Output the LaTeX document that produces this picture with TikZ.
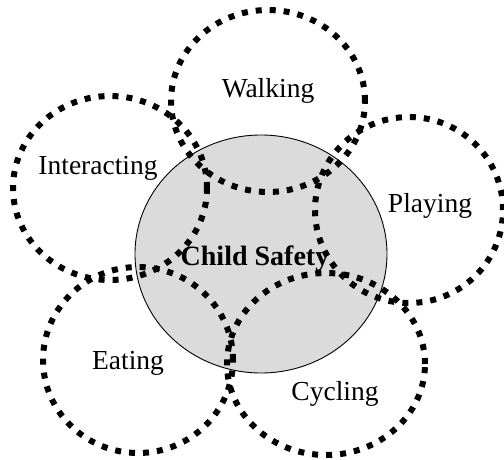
\documentclass[tikz,border=0pt]{standalone}
\usepackage{fontspec}
\setmainfont{Liberation Serif}
\usetikzlibrary{shapes.geometric}
\begin{document}
\begin{tikzpicture}[x=1pt,y=-1pt,
  ring/.style={ellipse, draw=black, line width=6pt, dash pattern=on 6pt off 8pt, inner sep=0pt},
  core/.style={ellipse, draw=black, line width=0.9pt, fill=gray!28, inner sep=0pt},
  lbl/.style={font=\fontsize{27.5}{30}\selectfont}]
\useasboundingbox (0,0) rectangle (504,460);
\node[core, minimum width=252pt, minimum height=238pt] (safety) at (261,254) {};
\node[ring, minimum width=194pt, minimum height=182pt] (walk) at (268,101) {};
\node[ring, minimum width=194pt, minimum height=184pt] (inter) at (110,188) {};
\node[ring, minimum width=188pt, minimum height=186pt] (play) at (409,210) {};
\node[ring, minimum width=190pt, minimum height=186pt] (eat) at (138,360) {};
\node[ring, minimum width=198pt, minimum height=182pt] (cycle) at (326,364) {};
\node[lbl] (twalk) at (268,91) {Walking};
\node[lbl] (tinter) at (98,168) {Interacting};
\node[lbl] (tplay) at (430,206) {Playing};
\node[lbl] (teat) at (128,363) {Eating};
\node[lbl] (tcycle) at (335,394) {Cycling};
\node[lbl, font=\fontsize{28}{30}\selectfont\bfseries] (tsafety) at (255,259) {Child Safety};
\end{tikzpicture}
\end{document}
